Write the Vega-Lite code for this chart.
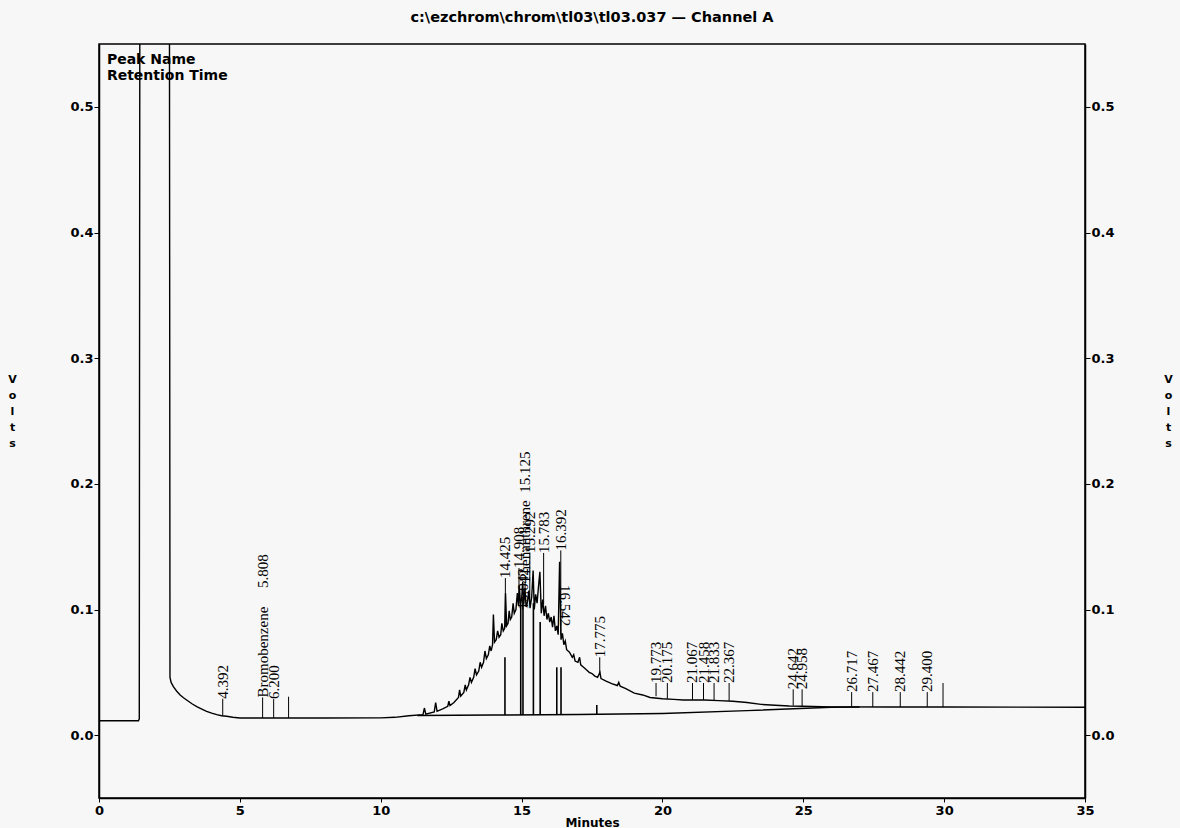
{
  "$schema": "https://vega.github.io/schema/vega-lite/v6.json",
  "width": 986,
  "height": 754,
  "autosize": {"type": "none"},
  "padding": {"left": 99, "top": 44, "right": 95, "bottom": 30},
  "background": "#f7f7f7",
  "title": {"text": "c:\\ezchrom\\chrom\\tl03\\tl03.037 — Channel A", "font": "DejaVu Sans", "fontWeight": "bold", "fontSize": 14.5, "anchor": "middle", "offset": 19, "color": "#000"},
  "datasets": {
    "trace": [
      {"t":0,"v":0.0115},{"t":1.40,"v":0.0115},{"t":1.43,"v":0.013},{"t":1.45,"v":0.6},{"t":2.50,"v":0.6},{"t":2.52,"v":0.046},{"t":2.56,"v":0.042},{"t":2.64,"v":0.0386},{"t":2.76,"v":0.035},{"t":2.88,"v":0.032},{"t":3.0,"v":0.0298},{"t":3.11,"v":0.028},{"t":3.3,"v":0.025},{"t":3.47,"v":0.0228},{"t":3.65,"v":0.0208},{"t":3.82,"v":0.019},{"t":4.0,"v":0.0175},{"t":4.18,"v":0.0163},{"t":4.35,"v":0.0155},{"t":4.53,"v":0.015},{"t":4.75,"v":0.0143},{"t":5.0,"v":0.0137},{"t":6.0,"v":0.0137},{"t":8.0,"v":0.0137},{"t":10.0,"v":0.0138},{"t":10.5,"v":0.0142},{"t":11.0,"v":0.0155},{"t":11.5,"v":0.0163},{"t":11.55,"v":0.0216},{"t":11.6,"v":0.0167},{"t":11.9,"v":0.0185},{"t":11.95,"v":0.026},{"t":12.0,"v":0.019},{"t":12.2,"v":0.021},{"t":12.38,"v":0.023},{"t":12.42,"v":0.027},{"t":12.46,"v":0.0235},{"t":12.6,"v":0.026},{"t":12.76,"v":0.030},{"t":12.80,"v":0.036},{"t":12.84,"v":0.031},{"t":12.95,"v":0.034},{"t":13.0,"v":0.040},{"t":13.04,"v":0.036},{"t":13.12,"v":0.040},{"t":13.17,"v":0.046},{"t":13.22,"v":0.042},{"t":13.3,"v":0.046},{"t":13.35,"v":0.053},{"t":13.4,"v":0.048},{"t":13.48,"v":0.051},{"t":13.53,"v":0.058},{"t":13.58,"v":0.054},{"t":13.65,"v":0.058},{"t":13.7,"v":0.067},{"t":13.75,"v":0.061},{"t":13.82,"v":0.064},{"t":13.87,"v":0.071},{"t":13.92,"v":0.067},{"t":13.97,"v":0.072},{"t":14.0,"v":0.096},{"t":14.04,"v":0.074},{"t":14.1,"v":0.076},{"t":14.15,"v":0.083},{"t":14.2,"v":0.078},{"t":14.26,"v":0.080},{"t":14.3,"v":0.089},{"t":14.35,"v":0.083},{"t":14.4,"v":0.085},{"t":14.43,"v":0.113},{"t":14.47,"v":0.087},{"t":14.52,"v":0.089},{"t":14.56,"v":0.099},{"t":14.6,"v":0.092},{"t":14.65,"v":0.094},{"t":14.7,"v":0.105},{"t":14.74,"v":0.097},{"t":14.8,"v":0.100},{"t":14.85,"v":0.113},{"t":14.89,"v":0.103},{"t":14.92,"v":0.119},{"t":14.96,"v":0.105},{"t":15.0,"v":0.108},{"t":15.04,"v":0.122},{"t":15.08,"v":0.104},{"t":15.12,"v":0.117},{"t":15.16,"v":0.102},{"t":15.21,"v":0.106},{"t":15.26,"v":0.115},{"t":15.3,"v":0.101},{"t":15.36,"v":0.110},{"t":15.41,"v":0.131},{"t":15.45,"v":0.100},{"t":15.5,"v":0.112},{"t":15.55,"v":0.105},{"t":15.6,"v":0.118},{"t":15.65,"v":0.130},{"t":15.7,"v":0.097},{"t":15.75,"v":0.108},{"t":15.8,"v":0.095},{"t":15.85,"v":0.103},{"t":15.9,"v":0.092},{"t":15.95,"v":0.097},{"t":16.0,"v":0.090},{"t":16.05,"v":0.094},{"t":16.1,"v":0.086},{"t":16.15,"v":0.095},{"t":16.2,"v":0.083},{"t":16.25,"v":0.087},{"t":16.3,"v":0.080},{"t":16.35,"v":0.138},{"t":16.4,"v":0.076},{"t":16.45,"v":0.081},{"t":16.5,"v":0.072},{"t":16.55,"v":0.075},{"t":16.6,"v":0.068},{"t":16.7,"v":0.066},{"t":16.8,"v":0.062},{"t":16.85,"v":0.064},{"t":16.9,"v":0.059},{"t":17.0,"v":0.058},{"t":17.06,"v":0.062},{"t":17.1,"v":0.056},{"t":17.2,"v":0.054},{"t":17.3,"v":0.052},{"t":17.4,"v":0.050},{"t":17.5,"v":0.049},{"t":17.6,"v":0.047},{"t":17.7,"v":0.046},{"t":17.78,"v":0.050},{"t":17.82,"v":0.045},{"t":18.0,"v":0.043},{"t":18.2,"v":0.041},{"t":18.4,"v":0.0395},{"t":18.45,"v":0.042},{"t":18.5,"v":0.039},{"t":18.7,"v":0.037},{"t":19.0,"v":0.0335},{"t":19.3,"v":0.032},{"t":19.56,"v":0.030},{"t":20.0,"v":0.029},{"t":20.4,"v":0.0285},{"t":20.74,"v":0.028},{"t":21.5,"v":0.028},{"t":22.0,"v":0.0275},{"t":22.5,"v":0.027},{"t":23.0,"v":0.026},{"t":23.5,"v":0.0245},{"t":24.0,"v":0.0238},{"t":24.5,"v":0.0232},{"t":25.0,"v":0.023},{"t":26.0,"v":0.0225},{"t":28.0,"v":0.0224},{"t":30.0,"v":0.0224},{"t":35.0,"v":0.0222}
    ],
    "baseline": [
      {"t":11.3,"b":0.0157},{"t":14,"b":0.016},{"t":17,"b":0.0165},{"t":20,"b":0.0173},{"t":23,"b":0.0195},{"t":26,"b":0.0222},{"t":27,"b":0.0224}
    ],
    "drops": [
      {"t":14.41,"lo":0.016,"hi":0.062},{"t":14.97,"lo":0.016,"hi":0.108},{"t":15.05,"lo":0.016,"hi":0.110},{"t":15.42,"lo":0.016,"hi":0.105},{"t":15.66,"lo":0.016,"hi":0.09},{"t":16.25,"lo":0.016,"hi":0.054},{"t":16.4,"lo":0.016,"hi":0.054},{"t":17.67,"lo":0.0165,"hi":0.024}
    ],
    "peaks": [
      {"t":4.392,"name":"4.392","v":0.029,"vt":0.0152},
      {"t":5.808,"name":"Bromobenzene\u00a0\u00a0\u00a0\u00a0\u00a05.808","v":0.030,"vt":0.0137},
      {"t":6.2,"name":"6.200","v":0.0287,"vt":0.0137},
      {"t":6.73,"name":"","v":0.0306,"vt":0.0137},
      {"t":14.425,"name":"14.425","v":0.125,"vt":0.086},
      {"t":14.908,"name":"14.908","v":0.133,"vt":0.103},
      {"t":15.042,"name":"15.042","v":0.100,"vt":0.108},
      {"t":15.125,"name":"Phenanthrene\u00a0\u00a015.125","v":0.122,"vt":0.115},
      {"t":15.292,"name":"15.292","v":0.145,"vt":0.105},
      {"t":15.783,"name":"15.783","v":0.145,"vt":0.104},
      {"t":16.392,"name":"16.392","v":0.147,"vt":0.08},
      {"t":17.775,"name":"17.775","v":0.062,"vt":0.048},
      {"t":19.773,"name":"19.773","v":0.0415,"vt":0.031},
      {"t":20.175,"name":"20.175","v":0.0415,"vt":0.029},
      {"t":21.067,"name":"21.067","v":0.0415,"vt":0.028},
      {"t":21.458,"name":"21.458","v":0.0415,"vt":0.028},
      {"t":21.833,"name":"21.833","v":0.0415,"vt":0.0277},
      {"t":22.367,"name":"22.367","v":0.0415,"vt":0.0272},
      {"t":24.642,"name":"24.642","v":0.0365,"vt":0.0235},
      {"t":24.958,"name":"24.958","v":0.0365,"vt":0.023},
      {"t":26.717,"name":"26.717","v":0.0343,"vt":0.0224},
      {"t":27.467,"name":"27.467","v":0.0343,"vt":0.0224},
      {"t":28.442,"name":"28.442","v":0.0343,"vt":0.0224},
      {"t":29.4,"name":"29.400","v":0.0343,"vt":0.0224},
      {"t":29.96,"name":"","v":0.0415,"vt":0.0224}
    ],
    "down": [
      {"t":16.542,"name":"16.542","v":0.1195}
    ],
    "notes": [
      {"t":0.28,"v":0.5373,"txt":"Peak Name"},
      {"t":0.28,"v":0.5245,"txt":"Retention Time"}
    ]
  },
  "layer": [
    {
      "data": {"name": "trace"},
      "mark": {"type": "line", "color": "#000", "strokeWidth": 1.4, "clip": true, "interpolate": "linear"},
      "encoding": {
        "x": {"field": "t", "type": "quantitative", "scale": {"domain": [0, 35], "nice": false, "zero": false},
              "axis": {"title": "Minutes", "values": [0,5,10,15,20,25,30,35], "tickSize": 4, "labelPadding": 2, "titlePadding": 0, "labelFlush": false, "labelOverlap": false}},
        "y": {"field": "v", "type": "quantitative", "scale": {"domain": [-0.05, 0.55], "nice": false, "zero": false},
              "axis": {"orient": "left", "title": ["V","o","l","t","s"], "titleAngle": 0, "titleFontSize": 11, "titleLineHeight": 16, "titleAlign": "center", "titleBaseline": "top", "titleX": -87, "titleY": 329, "values": [0,0.1,0.2,0.3,0.4,0.5], "format": ".1f", "tickSize": 5, "labelPadding": 1}}
      }
    },
    {
      "data": {"name": "baseline"},
      "mark": {"type": "line", "color": "#000", "strokeWidth": 1.4},
      "encoding": {
        "x": {"field": "t", "type": "quantitative"},
        "y": {"field": "b", "type": "quantitative",
              "axis": {"orient": "right", "title": ["V","o","l","t","s"], "titleAngle": 0, "titleFontSize": 11, "titleLineHeight": 16, "titleAlign": "center", "titleBaseline": "top", "titleX": 83, "titleY": 329, "values": [0,0.1,0.2,0.3,0.4,0.5], "format": ".1f", "tickSize": 5, "labelPadding": 1}}
      }
    },
    {
      "data": {"name": "drops"},
      "mark": {"type": "rule", "color": "#000", "strokeWidth": 1.6},
      "encoding": {
        "x": {"field": "t", "type": "quantitative"},
        "y": {"field": "lo", "type": "quantitative", "axis": null},
        "y2": {"field": "hi"}
      }
    },
    {
      "data": {"name": "peaks"},
      "mark": {"type": "rule", "color": "#000", "strokeWidth": 1},
      "encoding": {
        "x": {"field": "t", "type": "quantitative"},
        "y": {"field": "vt", "type": "quantitative", "axis": null},
        "y2": {"field": "v"}
      }
    },
    {
      "data": {"name": "peaks"},
      "mark": {"type": "text", "angle": 270, "align": "left", "baseline": "middle", "font": "Liberation Serif", "fontSize": 15, "color": "#000"},
      "encoding": {
        "x": {"field": "t", "type": "quantitative"},
        "y": {"field": "v", "type": "quantitative", "axis": null},
        "text": {"field": "name"}
      }
    },
    {
      "data": {"name": "down"},
      "mark": {"type": "text", "angle": 90, "align": "left", "baseline": "middle", "font": "Liberation Serif", "fontSize": 15, "color": "#000"},
      "encoding": {
        "x": {"field": "t", "type": "quantitative"},
        "y": {"field": "v", "type": "quantitative", "axis": null},
        "text": {"field": "name"}
      }
    },
    {
      "data": {"name": "notes"},
      "mark": {"type": "text", "align": "left", "baseline": "middle", "font": "DejaVu Sans", "fontWeight": "bold", "fontSize": 14, "color": "#000"},
      "encoding": {
        "x": {"field": "t", "type": "quantitative"},
        "y": {"field": "v", "type": "quantitative", "axis": null},
        "text": {"field": "txt"}
      }
    }
  ],
  "resolve": {"axis": {"y": "independent"}},
  "config": {
    "view": {"stroke": "#000", "strokeWidth": 1.5},
    "axis": {"domainColor": "#000", "domainWidth": 1.5, "tickColor": "#000", "labelColor": "#000", "titleColor": "#000", "grid": false,
             "labelFont": "DejaVu Sans", "labelFontWeight": "bold", "labelFontSize": 13,
             "titleFont": "DejaVu Sans", "titleFontWeight": "bold", "titleFontSize": 12}
  }
}
